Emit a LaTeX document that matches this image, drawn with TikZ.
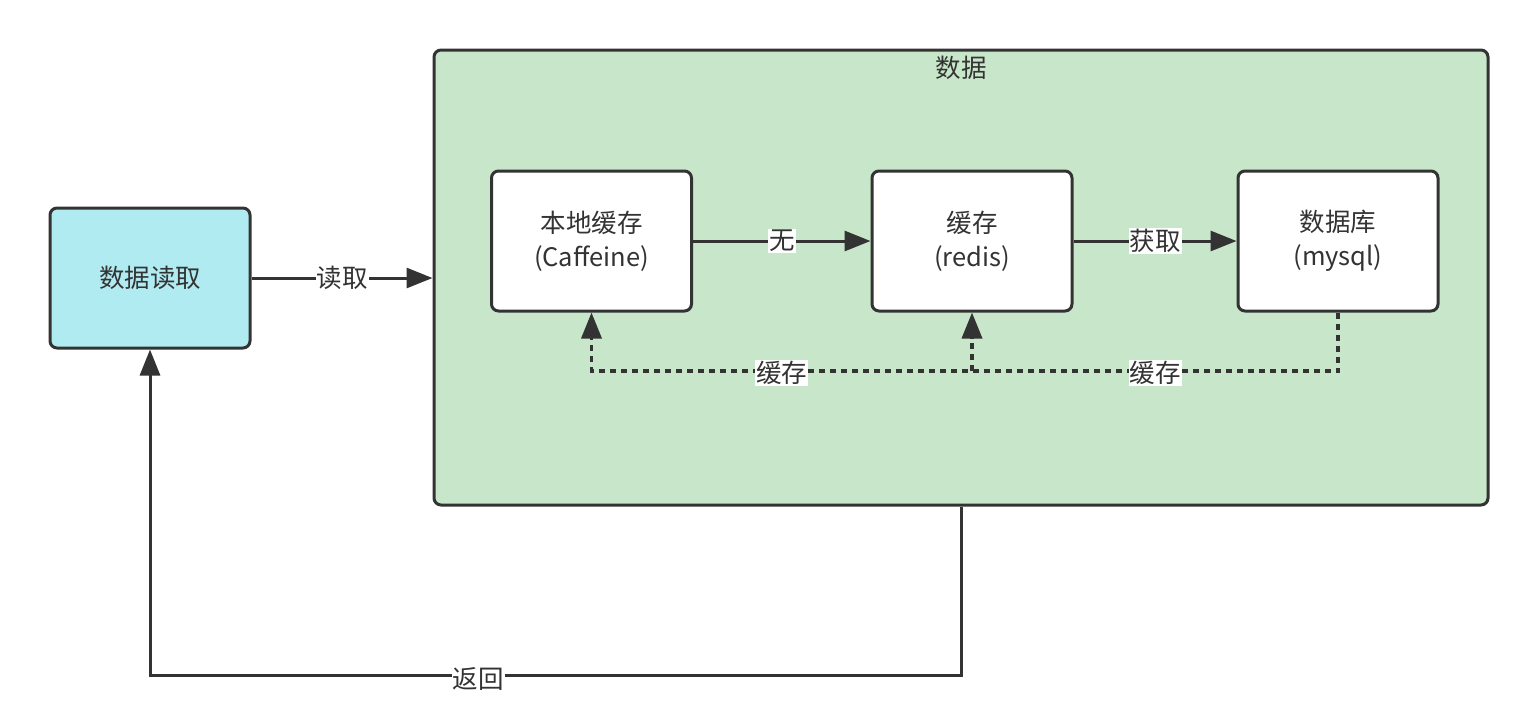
\documentclass[tikz,border=0pt]{standalone}
\usepackage{fontspec}
\setmainfont{Noto Sans CJK SC}
\usetikzlibrary{arrows.meta,positioning}
\definecolor{ink}{HTML}{333333}
\definecolor{cyanfill}{HTML}{B1EBF2}
\definecolor{greenfill}{HTML}{C8E6C9}
\tikzset{
  box/.style={draw=ink,line width=3pt,rounded corners=7pt,fill=white,align=center,minimum width=200pt,minimum height=140pt,inner sep=0pt,font=\fontsize{25.5}{34}\selectfont,text=ink},
  boxc/.style={box,fill=cyanfill},
  group/.style={draw=ink,line width=3pt,rounded corners=7pt,fill=greenfill,minimum width=1054pt,minimum height=455pt,inner sep=0pt},
  lbl/.style={fill=white,inner sep=1pt,font=\fontsize{25.5}{30}\selectfont,text=ink},
  plain/.style={font=\fontsize{25.5}{30}\selectfont,text=ink},
  ar/.style={-{Triangle[length=26pt,width=20pt]},draw=ink,line width=3pt},
  ard/.style={-{Triangle[length=26pt,width=20pt]},draw=ink,line width=3.5pt,dash pattern=on 6pt off 5pt},
}
\begin{document}
\begin{tikzpicture}[x=1pt,y=-1pt]
  \useasboundingbox (0,0) rectangle (1538,724);
  \node[boxc] (read) at (150,278) {数据读取};
  \node[group] (data) at (961,277.5) {};
  \node[plain] (datalbl) at (961,68) {数据};
  \node[box] (caffeine) at (591.5,241) {本地缓存\\(Caffeine)};
  \node[box] (redis) at (972,241) {缓存\\(redis)};
  \node[box] (mysql) at (1338,241) {数据库\\(mysql)};
  \coordinate (bus) at (0,371);
  \coordinate (ret) at (0,675);
  \draw[ar] (read.east) -- node[lbl]{读取} (read.east -| data.west);
  \draw[ar] (caffeine.east) -- node[lbl]{无} (redis.west);
  \draw[ar] (redis.east) -- node[lbl]{获取} (mysql.west);
  \draw[ard] (mysql.south) -- (mysql.south |- bus) -- node[lbl,yshift=-2pt]{缓存} (redis.south |- bus) -- node[lbl,yshift=-2pt]{缓存} (caffeine.south |- bus) -- (caffeine.south);
  \draw[ard] (redis.south |- bus) -- (redis.south);
  \draw[ar] (data.south) -- (data.south |- ret) -- node[lbl,pos=0.595,yshift=-4pt]{返回} (read.south |- ret) -- (read.south);
\end{tikzpicture}
\end{document}
